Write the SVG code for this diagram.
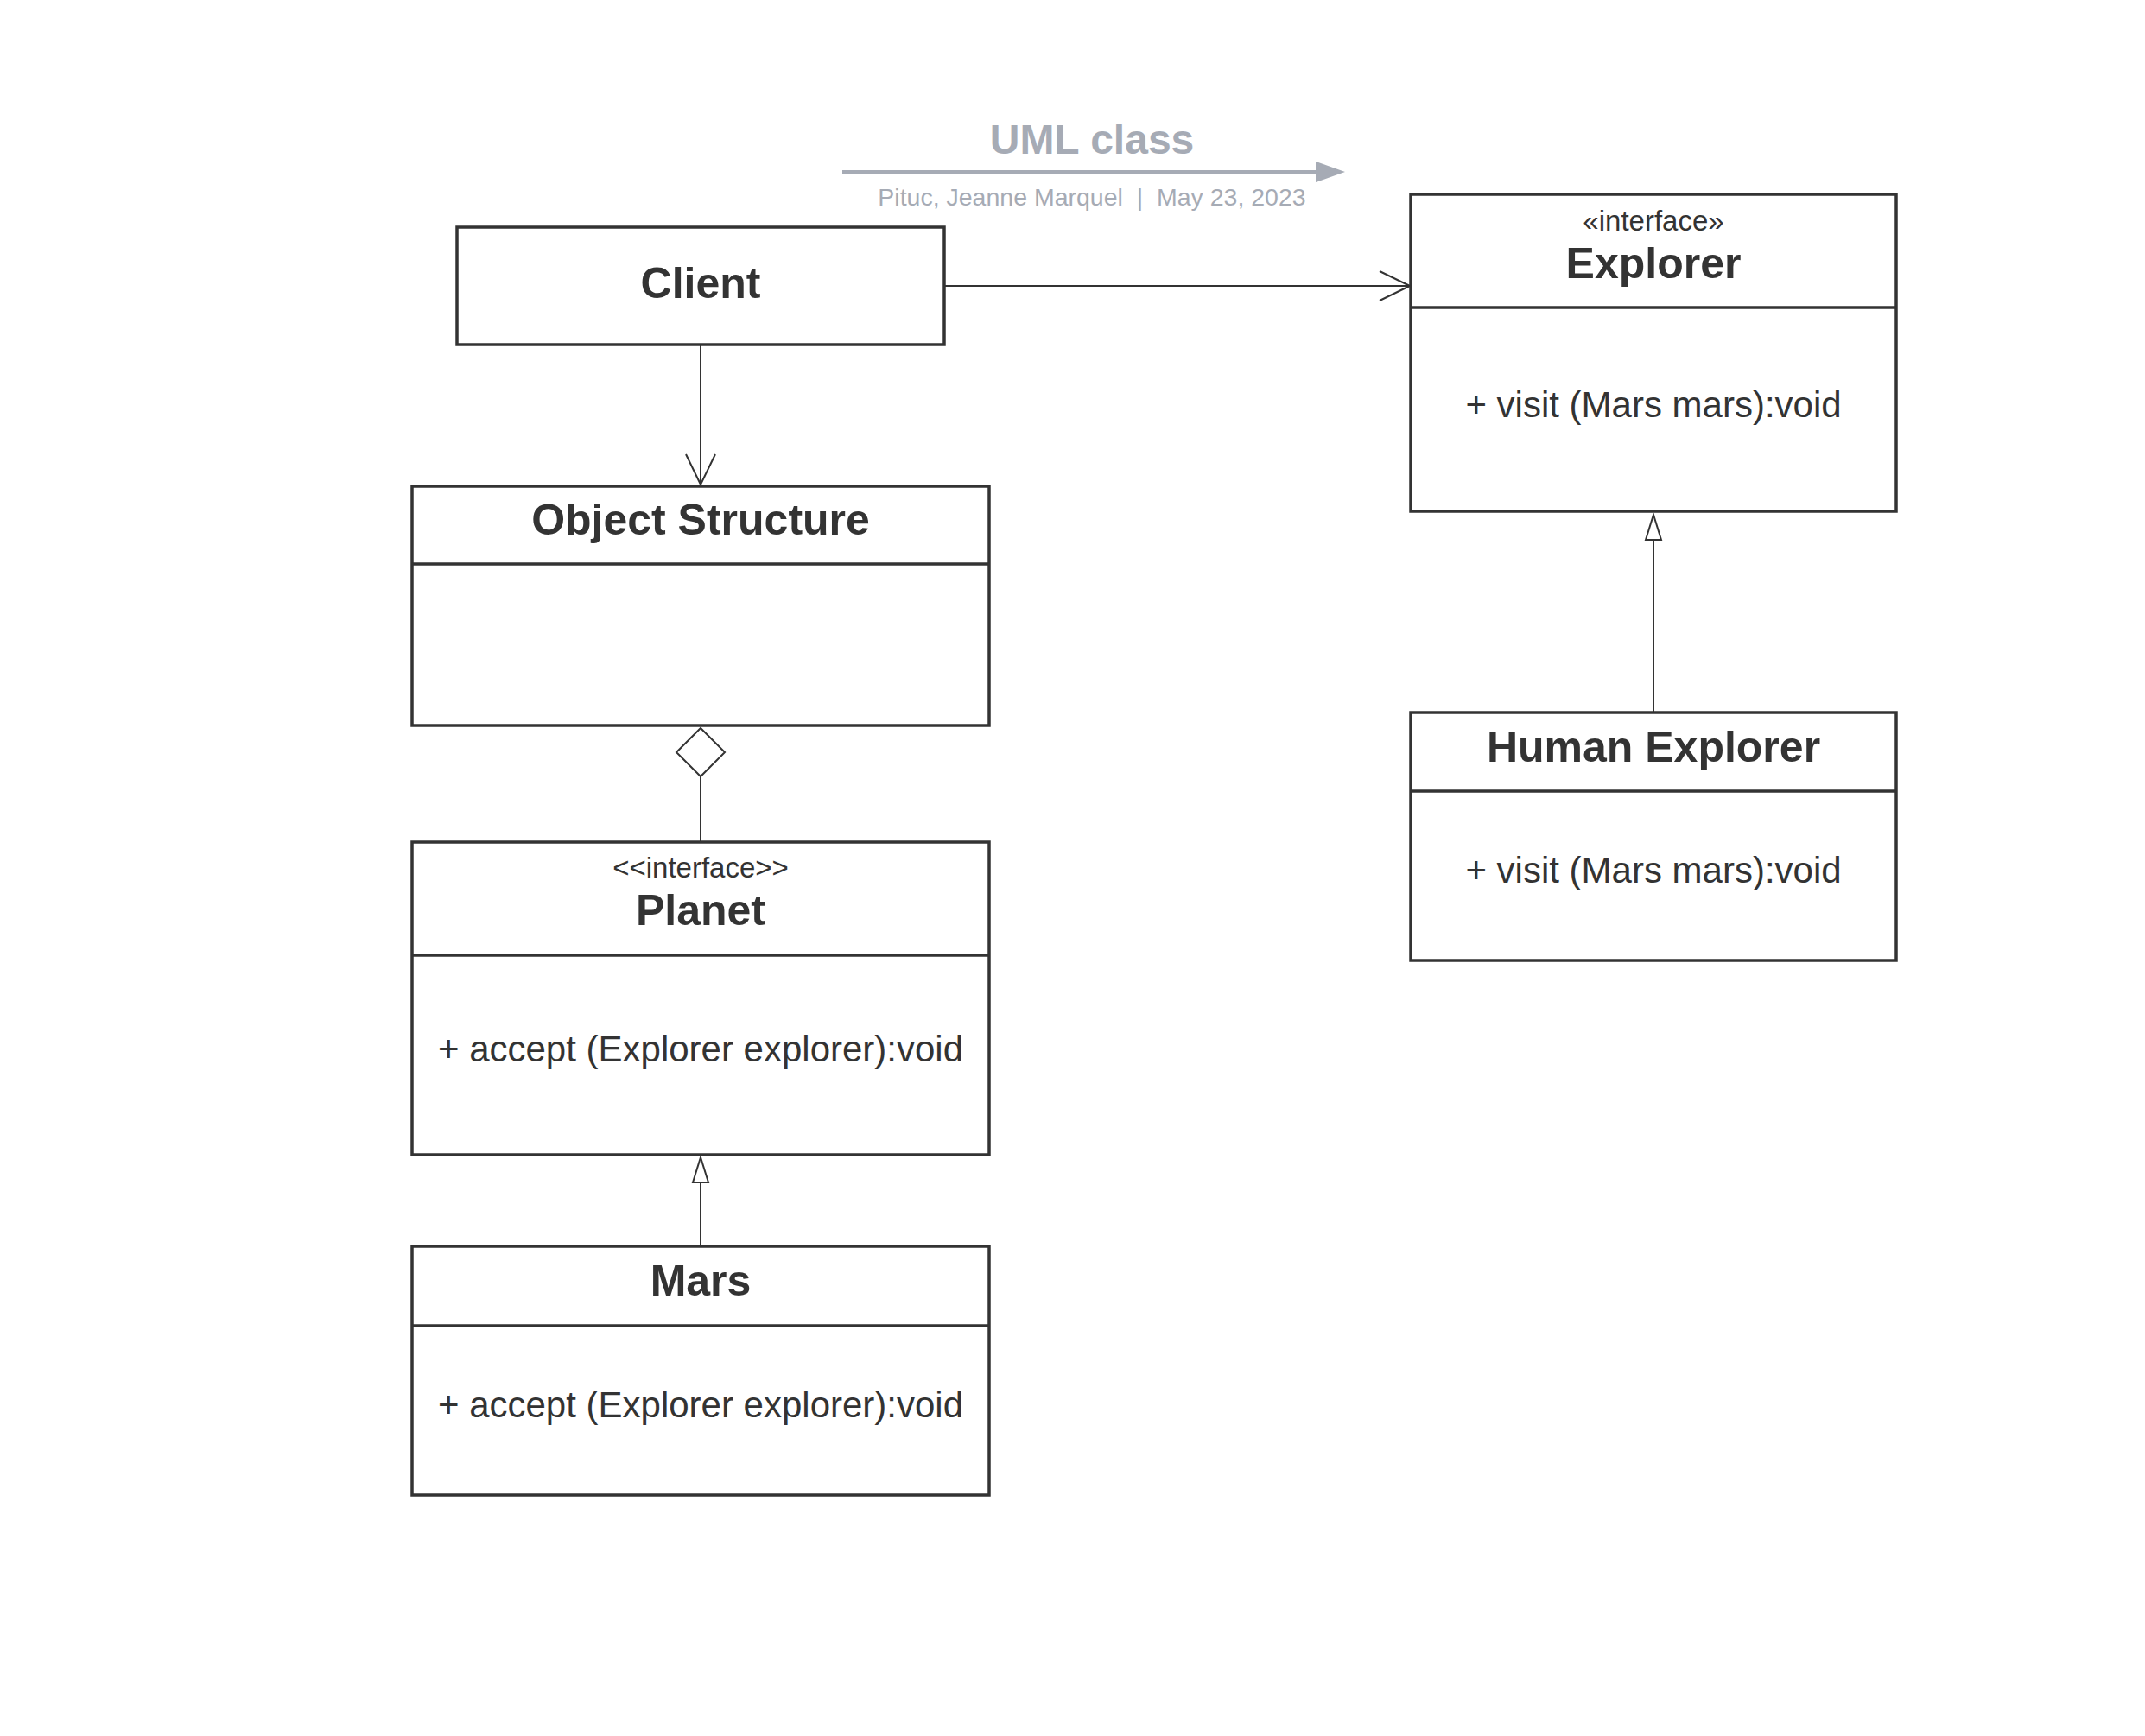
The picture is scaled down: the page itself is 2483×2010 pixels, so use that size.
<svg xmlns="http://www.w3.org/2000/svg" width="2483" height="2010" viewBox="0 0 2483 2010">
<style>
text{font-family:"Liberation Sans",Arial,sans-serif;fill:#333333}
.box{fill:#ffffff;stroke:#333333;stroke-width:3.5}
.div{stroke:#333333;stroke-width:3.5}
.title{font-size:50px;font-weight:bold;text-anchor:middle}
.stereo{font-size:33px;text-anchor:middle}
.member{font-size:42px;text-anchor:middle}
.conn{fill:none;stroke:#333333;stroke-width:2}
.hdr{fill:#a6abb5}
</style>
<defs>
<marker id="open" markerUnits="userSpaceOnUse" viewBox="0 0 38 38" markerWidth="38" markerHeight="38" refX="36" refY="19" orient="auto">
<path d="M1,2 L36,19 L1,36" fill="none" stroke="#333333" stroke-width="2"/>
</marker>
<marker id="gen" markerUnits="userSpaceOnUse" viewBox="0 0 32 22" markerWidth="32" markerHeight="22" refX="30" refY="11" orient="auto">
<path d="M1,2 L30,11 L1,20 Z" fill="#ffffff" stroke="#333333" stroke-width="2"/>
</marker>
</defs>
<rect width="2483" height="2010" fill="#ffffff"/>
<g id="header">
<text x="1264" y="178" class="hdr" style="font-size:48px;font-weight:bold;text-anchor:middle;fill:#a6abb5">UML class</text>
<line x1="975" y1="199" x2="1525" y2="199" stroke="#a6abb5" stroke-width="4"/>
<polygon points="1523,187 1557,199 1523,211" fill="#a6abb5"/>
<text x="1264" y="238" xml:space="preserve" style="font-size:28.5px;text-anchor:middle;fill:#a6abb5">Pituc, Jeanne Marquel  |  May 23, 2023</text>
</g>
<g id="connectors">
<line class="conn" x1="1093" y1="331" x2="1632" y2="331" marker-end="url(#open)"/>
<line class="conn" x1="811" y1="399" x2="811" y2="561" marker-end="url(#open)"/>
<polygon points="811,843 839,871 811,899 783,871" fill="#ffffff" stroke="#333333" stroke-width="2"/>
<line class="conn" x1="811" y1="899" x2="811" y2="974"/>
<line class="conn" x1="811" y1="1443" x2="811" y2="1340" marker-end="url(#gen)"/>
<line class="conn" x1="1914" y1="825" x2="1914" y2="596" marker-end="url(#gen)"/>
</g>
<g id="client">
<rect class="box" x="529" y="263" width="564" height="136"/>
<text class="title" x="811" y="345">Client</text>
</g>
<g id="explorer">
<rect class="box" x="1633" y="225" width="562" height="367"/>
<line class="div" x1="1633" y1="356" x2="2195" y2="356"/>
<text class="stereo" x="1914" y="267">«interface»</text>
<text class="title" x="1914" y="322">Explorer</text>
<text class="member" x="1914" y="483">+ visit (Mars mars):void</text>
</g>
<g id="object-structure">
<rect class="box" x="477" y="563" width="668" height="277"/>
<line class="div" x1="477" y1="653" x2="1145" y2="653"/>
<text class="title" x="811" y="619">Object Structure</text>
</g>
<g id="planet">
<rect class="box" x="477" y="975" width="668" height="362"/>
<line class="div" x1="477" y1="1106" x2="1145" y2="1106"/>
<text class="stereo" x="811" y="1016">&lt;&lt;interface&gt;&gt;</text>
<text class="title" x="811" y="1071">Planet</text>
<text class="member" x="811" y="1229">+ accept (Explorer explorer):void</text>
</g>
<g id="mars">
<rect class="box" x="477" y="1443" width="668" height="288"/>
<line class="div" x1="477" y1="1535" x2="1145" y2="1535"/>
<text class="title" x="811" y="1500">Mars</text>
<text class="member" x="811" y="1641">+ accept (Explorer explorer):void</text>
</g>
<g id="human-explorer">
<rect class="box" x="1633" y="825" width="562" height="287"/>
<line class="div" x1="1633" y1="916" x2="2195" y2="916"/>
<text class="title" x="1914" y="882">Human Explorer</text>
<text class="member" x="1914" y="1022">+ visit (Mars mars):void</text>
</g>
</svg>
